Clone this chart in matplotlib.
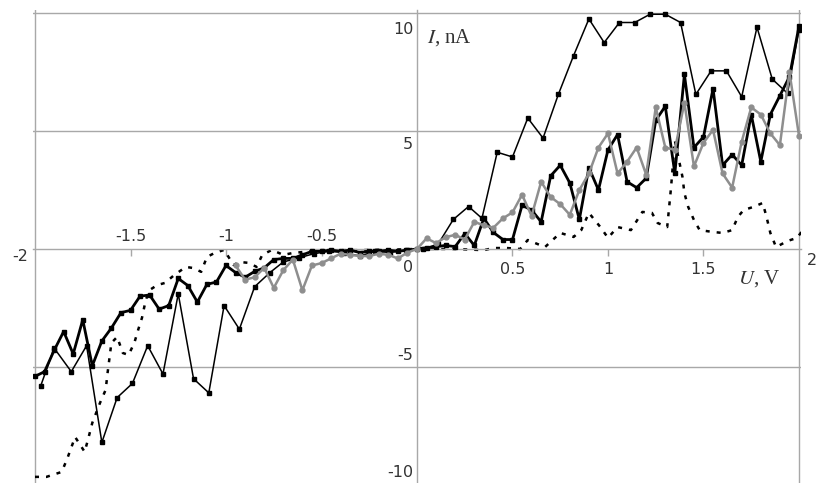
import matplotlib.pyplot as plt

plt.rcParams['mathtext.fontset'] = 'stix'

# thin black line with square markers
xA = [-1.97, -1.90, -1.81, -1.73, -1.65, -1.57, -1.49, -1.41, -1.33, -1.25,
      -1.17, -1.09, -1.01, -0.93, -0.85, -0.77, -0.70, -0.62, -0.54, -0.46,
      -0.38, -0.30, -0.22, -0.14, -0.06, 0.03, 0.11,
      0.19, 0.27, 0.34, 0.42, 0.50, 0.58, 0.66, 0.74, 0.82, 0.90,
      0.98, 1.06, 1.14, 1.22, 1.30, 1.38, 1.46, 1.54, 1.62, 1.70,
      1.78, 1.86, 1.94, 2.00]
yA = [-5.8, -4.2, -5.2, -4.1, -8.2, -6.3, -5.7, -4.1, -5.3, -1.9,
      -5.5, -6.1, -2.4, -3.4, -1.6, -1.0, -0.55, -0.38, -0.2, -0.1,
      -0.15, -0.3, -0.1, -0.15, -0.05, 0.0, 0.2,
      1.25, 1.8, 1.3, 4.1, 3.9, 5.55, 4.7, 6.55, 8.2, 9.75,
      8.75, 9.6, 9.6, 9.95, 9.95, 9.6, 6.55, 7.55, 7.55, 6.45,
      9.4, 7.2, 6.6, 9.3]

# thick black line
xB = [-2.00, -1.95, -1.90, -1.85, -1.80, -1.75, -1.70, -1.65, -1.60, -1.55,
      -1.50, -1.45, -1.40, -1.35, -1.30, -1.25, -1.20, -1.15, -1.10, -1.05,
      -1.00, -0.95, -0.90, -0.85, -0.80, -0.75, -0.70, -0.65, -0.60, -0.55,
      -0.50, -0.45, -0.40, -0.35, -0.30, -0.25, -0.20, -0.15, -0.10, -0.05,
      0.00, 0.05, 0.10, 0.15, 0.20, 0.25, 0.30, 0.35, 0.40, 0.45,
      0.50, 0.55, 0.60, 0.65, 0.70, 0.75, 0.80, 0.85, 0.90, 0.95,
      1.00, 1.05, 1.10, 1.15, 1.20, 1.25, 1.30, 1.35, 1.40, 1.45,
      1.50, 1.55, 1.60, 1.65, 1.70, 1.75, 1.80, 1.85, 1.90, 1.95, 2.00]
yB = [-5.4, -5.2, -4.3, -3.5, -4.45, -3.0, -4.95, -3.9, -3.35, -2.7,
      -2.6, -2.0, -1.95, -2.55, -2.4, -1.25, -1.55, -2.25, -1.5, -1.4,
      -0.7, -1.0, -1.2, -0.95, -0.8, -0.45, -0.4, -0.4, -0.25, -0.1,
      -0.1, -0.05, -0.1, -0.05, -0.15, -0.1, -0.1, -0.05, -0.1, -0.05,
      0.0, 0.05, 0.1, 0.15, 0.1, 0.65, 0.15, 1.3, 0.7, 0.4,
      0.4, 1.85, 1.65, 1.15, 3.1, 3.55, 2.8, 1.25, 3.45, 2.5,
      4.2, 4.85, 2.85, 2.6, 3.0, 5.45, 6.05, 3.2, 7.4, 4.3,
      4.75, 6.8, 3.55, 4.0, 3.55, 5.7, 3.7, 5.7, 6.5, 7.3, 9.45]

# grey line with round markers
xC = [-0.95, -0.90, -0.85, -0.80, -0.75, -0.70, -0.65, -0.60, -0.55, -0.50,
      -0.45, -0.40, -0.35, -0.30, -0.25, -0.20, -0.15, -0.10, -0.05,
      0.00, 0.05, 0.10, 0.15, 0.20, 0.25, 0.30, 0.35, 0.40, 0.45,
      0.50, 0.55, 0.60, 0.65, 0.70, 0.75, 0.80, 0.85, 0.90, 0.95,
      1.00, 1.05, 1.10, 1.15, 1.20, 1.25, 1.30, 1.35, 1.40, 1.45,
      1.50, 1.55, 1.60, 1.65, 1.70, 1.75, 1.80, 1.85, 1.90, 1.95, 2.00]
yC = [-0.7, -1.3, -1.2, -0.8, -1.65, -0.9, -0.45, -1.75, -0.7, -0.6,
      -0.4, -0.2, -0.25, -0.3, -0.3, -0.2, -0.25, -0.4, -0.15,
      0.0, 0.45, 0.25, 0.5, 0.6, 0.4, 1.15, 1.0, 0.9, 1.3,
      1.55, 2.3, 1.4, 2.85, 2.2, 1.9, 1.45, 2.5, 3.2, 4.3,
      4.9, 3.2, 3.7, 4.3, 3.15, 6.0, 4.3, 4.2, 6.2, 3.5,
      4.5, 5.05, 3.2, 2.6, 4.55, 6.0, 5.7, 4.9, 4.4, 7.5, 4.8]

# dotted black line
xD = [-2.00, -1.94, -1.86, -1.83, -1.79, -1.74, -1.72, -1.70, -1.66, -1.63,
      -1.62, -1.60, -1.57, -1.54, -1.51, -1.48, -1.46, -1.44, -1.42, -1.40,
      -1.36, -1.32, -1.27, -1.21, -1.17, -1.13, -1.10, -1.06, -1.01, -0.96,
      -0.93, -0.88, -0.84, -0.81, -0.76, -0.70, -0.65, -0.60, -0.50, -0.30,
      0.00, 0.20, 0.35, 0.40, 0.47, 0.54, 0.58, 0.67, 0.75, 0.82,
      0.86, 0.90, 0.96, 1.00, 1.05, 1.12, 1.18, 1.23, 1.26, 1.31,
      1.33, 1.35, 1.39, 1.40, 1.42, 1.45, 1.48, 1.55, 1.60, 1.65,
      1.68, 1.71, 1.76, 1.81, 1.83, 1.85, 1.88, 1.94, 1.99, 2.02]
yD = [-9.66, -9.66, -9.45, -8.86, -7.97, -8.6, -8.0, -7.37, -6.53, -5.97,
      -5.25, -3.98, -3.73, -4.41, -4.49, -3.98, -3.43, -2.92, -2.16, -1.74,
      -1.53, -1.44, -1.1, -0.76, -0.81, -0.97, -0.34, -0.17, -0.04, -0.68,
      -0.55, -0.59, -0.76, -0.25, -0.04, -0.25, -0.17, -0.13, -0.05, -0.05,
      0.0, 0.0, -0.05, 0.04, 0.04, 0.0, 0.38, 0.08, 0.68, 0.51,
      0.8, 1.53, 0.93, 0.47, 0.93, 0.8, 1.57, 1.53, 1.1, 0.93,
      2.6, 4.6, 3.05, 2.37, 1.78, 1.23, 0.8, 0.72, 0.68, 0.8,
      1.36, 1.65, 1.78, 1.95, 1.36, 0.68, 0.08, 0.34, 0.47, 0.8]

xticks = [-1.5, -1, -0.5, 0.5, 1, 1.5]
yticks = [10, 5, -5, -10]

grid_c = '#a8a8a8'
text_c = '#333333'

fig = plt.figure(figsize=(8.19, 4.83), dpi=100)
ax = fig.add_axes([33 / 819, 0, 768 / 819, 473 / 483])
ax.set_xlim(-2.0105, 2.0105)
ax.set_ylim(-9.92, 10.13)

# frame and grid
for s in ['top', 'right']:
    ax.spines[s].set_visible(False)
ax.spines['left'].set_position(('data', 0))
ax.spines['bottom'].set_position(('data', 0))
ax.spines['left'].set_color(grid_c)
ax.spines['bottom'].set_color(grid_c)
ax.spines['left'].set_linewidth(1.0)
ax.spines['bottom'].set_linewidth(1.0)
ax.set_xticks(xticks)
ax.set_yticks([])
ax.tick_params(axis='x', direction='out', length=5, width=1.0, color=grid_c,
               labelbottom=False)
for yv in [10, 5, -5]:
    ax.axhline(yv, color=grid_c, lw=1.0, zorder=1)
for xv in [-2, 2]:
    ax.axvline(xv, color=grid_c, lw=1.0, zorder=1)

# curves
ax.plot(xD, yD, color='black', lw=1.8, linestyle=(0, (1.6, 2.8)), zorder=2)
ax.plot(xA, yA, color='black', lw=1.1, marker='s', ms=3, zorder=3)
ax.plot(xB, yB, color='black', lw=2.0, marker='s', ms=2.5, zorder=4)
ax.plot(xC, yC, color='#8e8e8e', lw=1.8, marker='o', ms=3.5, zorder=5)

# tick labels
fs = 11.5
for xv in xticks:
    if xv < 0:
        ax.text(xv, 0.55, '%g' % xv, ha='center', va='center', fontsize=fs, color=text_c)
    else:
        ax.text(xv, -0.85, '%g' % xv, ha='center', va='center', fontsize=fs, color=text_c)
ax.text(-2.08, -0.34, '-2', ha='center', va='center', fontsize=fs, color=text_c, clip_on=False)
ax.text(2.07, -0.47, '2', ha='center', va='center', fontsize=fs, color=text_c, clip_on=False)
ax.text(-0.02, -0.8, '0', ha='right', va='center', fontsize=fs, color=text_c)
ylab_pos = {10: 9.32, 5: 4.41, -5: -4.53, -10: -9.49}
for yv in yticks:
    ax.text(-0.02, ylab_pos[yv], '%d' % yv, ha='right', va='center', fontsize=fs, color=text_c)

# axis labels
ax.text(0.05, 8.98, r'$I$, nA', ha='left', va='center', fontsize=15,
        family='Liberation Serif', color=text_c)
ax.text(1.68, -1.27, r'$U$, V', ha='left', va='center', fontsize=15,
        family='Liberation Serif', color=text_c)

fig.savefig('out.png', dpi=100)
